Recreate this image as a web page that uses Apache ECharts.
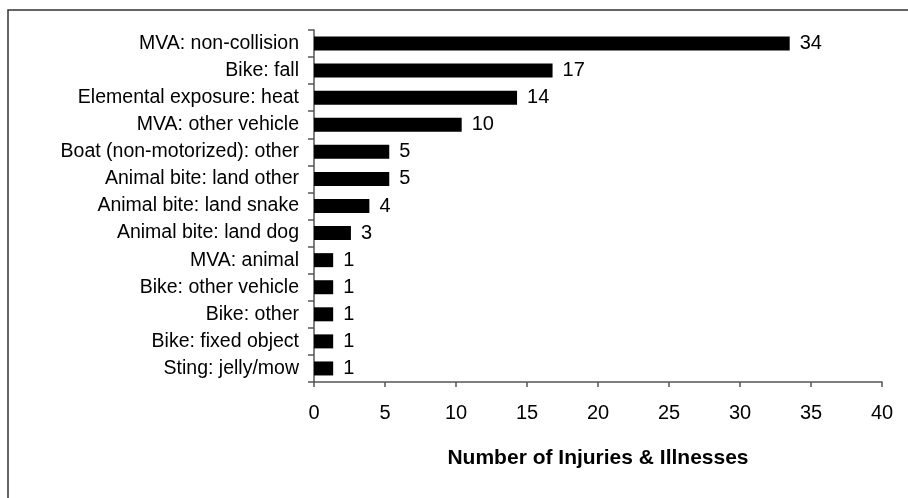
<!DOCTYPE html>
<html>
<head>
<meta charset="utf-8">
<script src="https://cdn.jsdelivr.net/npm/echarts@6/dist/echarts.min.js"></script>
<style>
  html, body { margin: 0; padding: 0; background: #fff; }
  #chart { width: 908px; height: 498px; }
</style>
</head>
<body>
<div id="chart"></div>
<script>
var categories = [
    "MVA: non-collision",
    "Bike: fall",
    "Elemental exposure: heat",
    "MVA: other vehicle",
    "Boat (non-motorized): other",
    "Animal bite: land other",
    "Animal bite: land snake",
    "Animal bite: land dog",
    "MVA: animal",
    "Bike: other vehicle",
    "Bike: other",
    "Bike: fixed object",
    "Sting: jelly/mow"
];
// bar lengths as drawn in the picture
var barValues = [33.5, 16.8, 14.3, 10.4, 5.3, 5.3, 3.9, 2.6, 1.35, 1.35, 1.35, 1.35, 1.35];
// counts printed next to the bars
var countLabels = [34, 17, 14, 10, 5, 5, 4, 3, 1, 1, 1, 1, 1];
var xTicks = [0, 5, 10, 15, 20, 25, 30, 35, 40];

var font = "'Liberation Sans', Arial, sans-serif";
var myChart = echarts.init(document.getElementById('chart'));

var option = {
    animation: false,
    backgroundColor: '#fff',
    graphic: [
        {
            type: 'rect',
            shape: { x: 8, y: 10, width: 940, height: 520 },
            style: { fill: 'none', stroke: '#333', lineWidth: 1.5 },
            silent: true
        }
    ],
    grid: {
        left: 314,
        right: 26,
        top: 30,
        bottom: 116
    },
    xAxis: {
        type: 'value',
        min: xTicks[0],
        max: xTicks[xTicks.length - 1],
        interval: xTicks[1] - xTicks[0],
        name: 'Number of Injuries & Illnesses',
        nameLocation: 'middle',
        nameGap: 66,
        nameTextStyle: {
            fontFamily: font,
            fontSize: 21,
            fontWeight: 'bold',
            color: '#000'
        },
        axisLine: { show: true, lineStyle: { color: '#555', width: 1.5 } },
        axisTick: { show: true, length: 5, lineStyle: { color: '#555', width: 1.5 } },
        splitLine: { show: false },
        axisLabel: {
            margin: 21,
            fontFamily: font,
            fontSize: 20,
            color: '#000'
        }
    },
    yAxis: {
        type: 'category',
        inverse: true,
        data: categories,
        axisLine: { show: true, lineStyle: { color: '#555', width: 1.5 } },
        axisTick: { show: true, length: 6, lineStyle: { color: '#555', width: 1.5 } },
        axisLabel: {
            margin: 15,
            fontFamily: font,
            fontSize: 19.5,
            color: '#000'
        }
    },
    series: [
        {
            name: 'Injuries',
            type: 'bar',
            data: barValues,
            barWidth: 14,
            itemStyle: { color: '#000' },
            label: {
                show: true,
                position: 'right',
                distance: 10,
                fontFamily: font,
                fontSize: 20,
                color: '#000',
                formatter: function (p) {
                    return countLabels[p.dataIndex];
                }
            }
        }
    ]
};

myChart.setOption(option);
</script>
</body>
</html>
